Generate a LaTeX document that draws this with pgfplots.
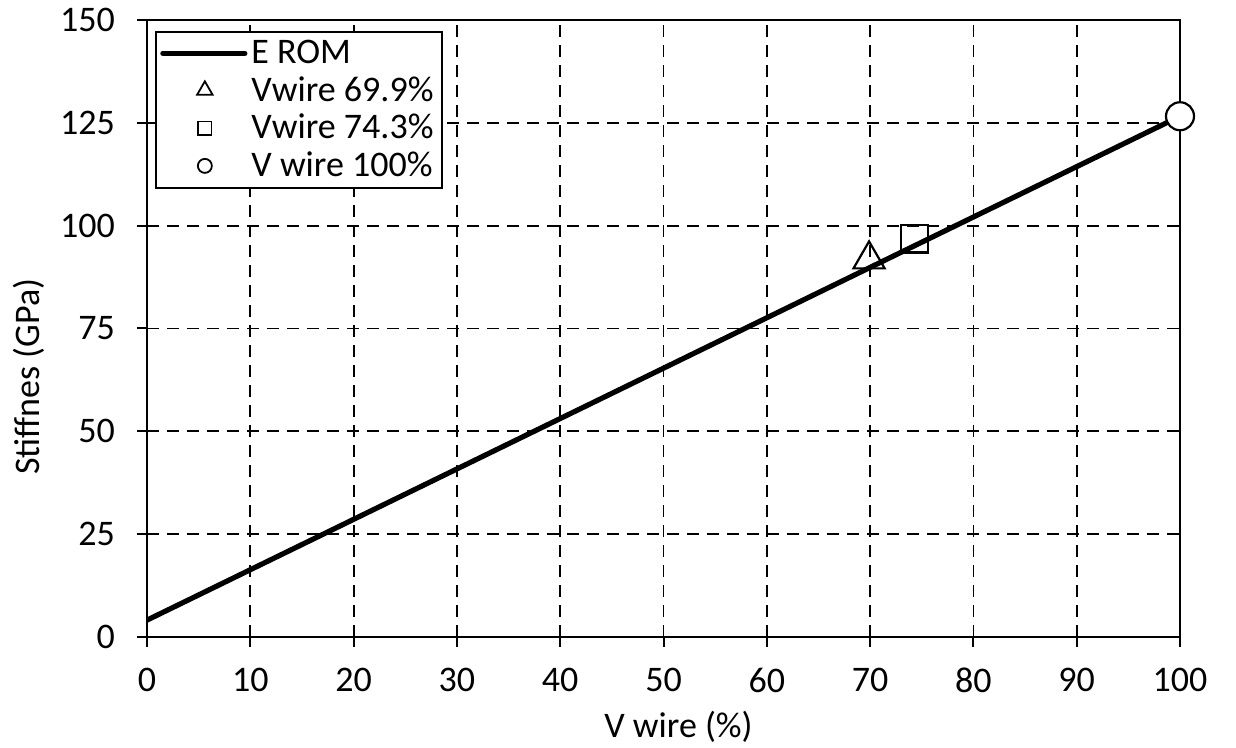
\documentclass[border=0pt]{standalone}
\usepackage{pgfplots}
\pgfplotsset{compat=1.18}
\usepackage{fontspec}
\setmainfont{Carlito}
\begin{document}
\begin{tikzpicture}
\begin{axis}[
  name=ax,
  scale only axis,
  width=516.5pt, height=308.5pt,
  xmin=0, xmax=100, ymin=0, ymax=150,
  xtick={0,10,...,100}, ytick={0,25,...,150},
  grid=major,
  major grid style={black, dashed, line width=0.9pt, dash pattern=on 6pt off 4pt},
  axis line style={black, line width=1pt},
  tick style={black, line width=1pt},
  tick align=outside, major tick length=5pt,
  xtick pos=bottom, ytick pos=left,
  /pgf/number format/assume math mode=true,
  ticklabel style={font=\fontsize{18}{21}\selectfont},
  yticklabel style={xshift=-7.5pt},
  xticklabel style={yshift=-7pt},
  label style={font=\fontsize{18}{21}\selectfont},
  xlabel={V wire (\%)}, ylabel={Stiffnes (GPa)},
  xlabel style={yshift=-2.5pt, xshift=7.5pt},
  ylabel style={yshift=1pt, xshift=-24pt},
  clip=false,
  legend style={at={(0.008,0.982)}, anchor=north west, draw=black, line width=1pt,
    font=\fontsize{18}{21}\selectfont, row sep=1pt, inner sep=2pt,
    cells={anchor=west}},
  legend cell align=left,
]
\addplot[black, line width=2.6pt, legend image code/.code={\draw[black,line width=2.6pt,line cap=round] (0pt,0pt) -- (41pt,0pt);}] coordinates {(0,4.1) (100,126.6)};
\addlegendentry{E ROM}
\addplot[only marks, mark=triangle, mark size=9pt, mark options={fill=white, draw=black, line width=1.1pt},
  legend image code/.code={\path[draw=none] (0pt,0pt) -- (41pt,0pt); \path[draw=black] plot[only marks, mark=triangle, mark size=4.5pt, mark options={fill=white, draw=black, line width=0.9pt}] coordinates {(21pt,0pt)};}]
  coordinates {(69.9,91.8)};
\addlegendentry{Vwire 69.9\%}
\addplot[only marks, mark=square, mark size=6.8pt, mark options={fill=white, draw=black, line width=1.1pt},
  legend image code/.code={\path[draw=none] (0pt,0pt) -- (41pt,0pt); \path[draw=black] plot[only marks, mark=square, mark size=3.3pt, mark options={fill=white, draw=black, line width=0.9pt}] coordinates {(21pt,0pt)};}]
  coordinates {(74.3,96.8)};
\addlegendentry{Vwire 74.3\%}
\addplot[only marks, mark=*, mark size=7pt, mark options={fill=white, draw=black, line width=1.1pt},
  legend image code/.code={\path[draw=none] (0pt,0pt) -- (41pt,0pt); \path[draw=black] plot[only marks, mark=*, mark size=3.5pt, mark options={fill=white, draw=black, line width=0.9pt}] coordinates {(21pt,0pt)};}]
  coordinates {(100,126.6)};
\addlegendentry{V wire 100\%}
\end{axis}
\pgfresetboundingbox
\path (ax.south west) ++(-73.5pt,-55.5pt) coordinate (bl);
\path (ax.north east) ++(28pt,10pt) coordinate (tr);
\useasboundingbox (bl) rectangle (tr);
\end{tikzpicture}
\end{document}
